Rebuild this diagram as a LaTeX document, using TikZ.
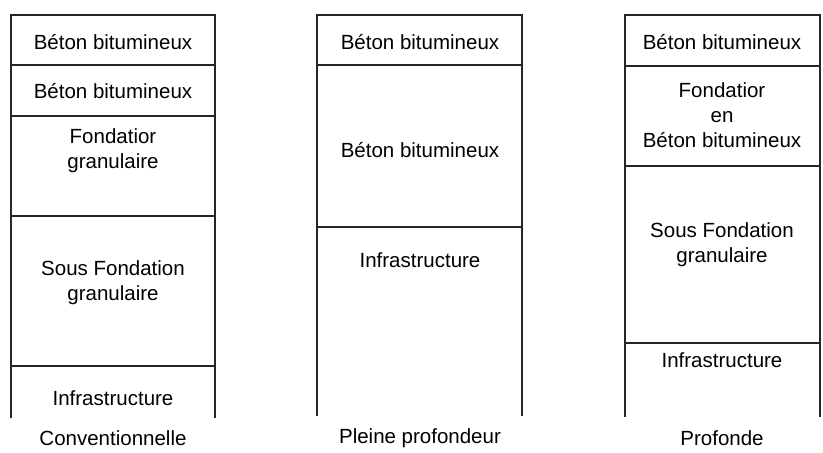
\documentclass[tikz,border=0pt]{standalone}
\usepackage{fontspec}
\setmainfont{Liberation Sans}
\usetikzlibrary{positioning}

\begin{document}
\begin{tikzpicture}[x=1pt, y=-1pt,
  layer/.style={font=\fontsize{20.5}{25}\selectfont, align=center, inner sep=0pt},
  caption/.style={font=\fontsize{20.5}{25}\selectfont, inner sep=0pt},
  wall/.style={line width=1.3pt, draw=black!85}
]
  \useasboundingbox (0,0) rectangle (823,453);

  % Conventionnelle
  \draw[wall] (11,418) -- (11,15) -- (215,15) -- (215,418);
  \draw[wall] (11,65) -- (215,65);
  \draw[wall] (11,116) -- (215,116);
  \draw[wall] (11,216) -- (215,216);
  \draw[wall] (11,366) -- (215,366);
  \node[layer] (convbb) at (113,42) {Béton bitumineux};
  \node[layer] (convbase) at (113,91) {Béton bitumineux};
  \node[layer] (convfond) at (113,151) {Fondatior\\granulaire};
  \node[layer] (convsous) at (113,283) {Sous Fondation\\granulaire};
  \node[layer] (convinfra) at (113,398) {Infrastructure};
  \node[caption] (conv) at (113,438) {Conventionnelle};

  % Pleine profondeur
  \draw[wall] (317,416) -- (317,15) -- (522,15) -- (522,416);
  \draw[wall] (317,65) -- (522,65);
  \draw[wall] (317,227) -- (522,227);
  \node[layer] (pleinbb) at (420,42) {Béton bitumineux};
  \node[layer] (pleinbase) at (420,150) {Béton bitumineux};
  \node[layer] (pleininfra) at (420,260) {Infrastructure};
  \node[caption] (plein) at (420,438) {Pleine profondeur};

  % Profonde
  \draw[wall] (625,417) -- (625,15) -- (820,15) -- (820,417);
  \draw[wall] (625,66) -- (820,66);
  \draw[wall] (625,166) -- (820,166);
  \draw[wall] (625,343) -- (820,343);
  \node[layer] (profbb) at (722,42) {Béton bitumineux};
  \node[layer] (proffond) at (722,115) {Fondatior\\en\\Béton bitumineux};
  \node[layer] (profsous) at (722,245) {Sous Fondation\\granulaire};
  \node[layer] (profinfra) at (722,360) {Infrastructure};
  \node[caption] (prof) at (722,438) {Profonde};
\end{tikzpicture}
\end{document}
